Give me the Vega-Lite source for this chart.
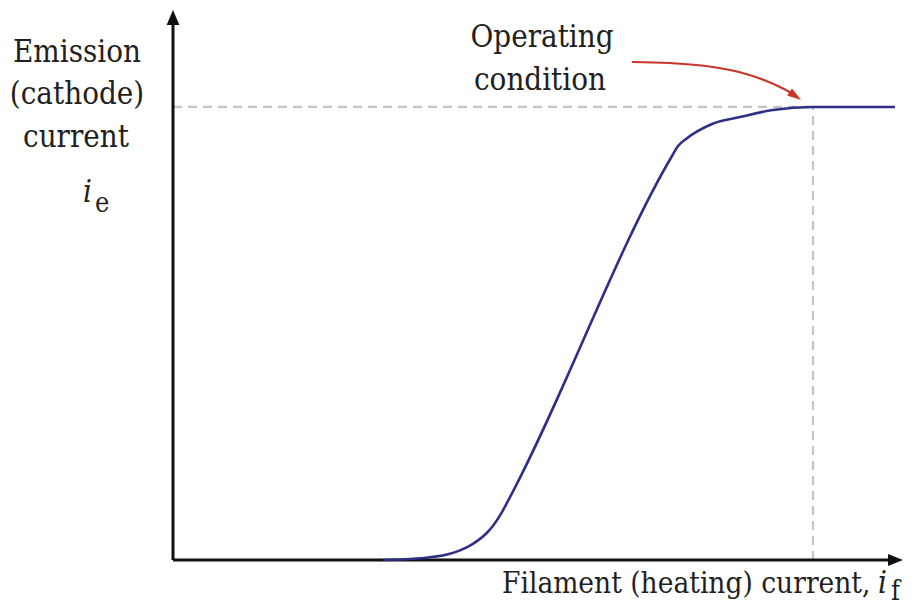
{
  "$schema": "https://vega.github.io/schema/vega-lite/v6.json",
  "width": 730,
  "height": 552,
  "autosize": {"type": "none"},
  "padding": {"left": 173, "top": 8, "right": 16, "bottom": 51},
  "background": "white",
  "config": {"view": {"stroke": null}},
  "layer": [
    {
      "data": {"values": [
        {"x": 0, "y": 82.07, "x2": 87.67, "y2": 82.07},
        {"x": 87.67, "y": 0, "x2": 87.67, "y2": 82.07}
      ]},
      "mark": {"type": "rule", "color": "#c4c4c4", "strokeWidth": 2.2, "strokeDash": [9, 6]},
      "encoding": {
        "x": {"field": "x", "type": "quantitative", "scale": {"domain": [0, 100], "nice": false, "zero": false}, "axis": null},
        "y": {"field": "y", "type": "quantitative", "scale": {"domain": [0, 100], "nice": false, "zero": false}, "axis": null},
        "x2": {"field": "x2"},
        "y2": {"field": "y2"}
      }
    },
    {
      "data": {"values": [
        {"x": 0, "y": 0, "x2": 98.2, "y2": 0},
        {"x": 0, "y": 0, "x2": 0, "y2": 97.8}
      ]},
      "mark": {"type": "rule", "color": "#111111", "strokeWidth": 3},
      "encoding": {
        "x": {"field": "x", "type": "quantitative"},
        "y": {"field": "y", "type": "quantitative"},
        "x2": {"field": "x2"},
        "y2": {"field": "y2"}
      }
    },
    {
      "data": {"values": [{"x": 0, "y": 98.28}]},
      "mark": {"type": "point", "shape": "M0,-1L0.85,1L-0.85,1Z", "size": 225, "filled": true, "color": "#111111", "opacity": 1},
      "encoding": {
        "x": {"field": "x", "type": "quantitative"},
        "y": {"field": "y", "type": "quantitative"}
      }
    },
    {
      "data": {"values": [{"x": 98.97, "y": 0}]},
      "mark": {"type": "point", "shape": "M1,0L-1,0.8L-1,-0.8Z", "size": 225, "filled": true, "color": "#111111", "opacity": 1},
      "encoding": {
        "x": {"field": "x", "type": "quantitative"},
        "y": {"field": "y", "type": "quantitative"}
      }
    },
    {
      "data": {"values": [
        {"x": 28.77, "y": 0},
        {"x": 32.47, "y": 0.18},
        {"x": 35.21, "y": 0.5},
        {"x": 37.67, "y": 1.05},
        {"x": 39.32, "y": 1.75},
        {"x": 40.68, "y": 2.6},
        {"x": 41.78, "y": 3.55},
        {"x": 42.88, "y": 4.75},
        {"x": 43.84, "y": 6.2},
        {"x": 44.9, "y": 8.3},
        {"x": 46.0, "y": 11.0},
        {"x": 68.36, "y": 73.19},
        {"x": 69.18, "y": 75.0},
        {"x": 70.27, "y": 76.27},
        {"x": 71.92, "y": 77.72},
        {"x": 73.84, "y": 78.99},
        {"x": 77.67, "y": 80.25},
        {"x": 82.19, "y": 81.52},
        {"x": 87.67, "y": 82.07},
        {"x": 98.9, "y": 82.07}
      ]},
      "mark": {"type": "line", "color": "#2f2f86", "strokeWidth": 2.6, "interpolate": "monotone"},
      "encoding": {
        "x": {"field": "x", "type": "quantitative"},
        "y": {"field": "y", "type": "quantitative"}
      }
    },
    {
      "data": {"values": [
        {"x": 62.88, "y": 90.22},
        {"x": 67.95, "y": 90.04},
        {"x": 73.01, "y": 89.49},
        {"x": 77.53, "y": 88.41},
        {"x": 80.96, "y": 86.96},
        {"x": 83.7, "y": 85.33},
        {"x": 84.9, "y": 84.45}
      ]},
      "mark": {"type": "line", "color": "#c8352b", "strokeWidth": 2.2, "interpolate": "monotone"},
      "encoding": {
        "x": {"field": "x", "type": "quantitative"},
        "y": {"field": "y", "type": "quantitative"}
      }
    },
    {
      "data": {"values": [{"x": 85.25, "y": 84.06}]},
      "mark": {"type": "point", "shape": "M1,0L-1,0.6L-1,-0.6Z", "size": 196, "filled": true, "color": "#c8352b", "opacity": 1, "angle": 35},
      "encoding": {
        "x": {"field": "x", "type": "quantitative"},
        "y": {"field": "y", "type": "quantitative"}
      }
    },
    {
      "data": {"values": [
        {"x": -13.15, "y": 90.22, "label": "Emission"},
        {"x": -13.15, "y": 82.61, "label": "(cathode)"},
        {"x": -13.29, "y": 74.82, "label": "current"},
        {"x": 50.55, "y": 92.93, "label": "Operating"},
        {"x": 50.27, "y": 85.14, "label": "condition"}
      ]},
      "mark": {"type": "text", "font": "DejaVu Serif Condensed, DejaVu Serif", "fontSize": 31, "color": "#231f20", "align": "center", "baseline": "alphabetic"},
      "encoding": {
        "x": {"field": "x", "type": "quantitative"},
        "y": {"field": "y", "type": "quantitative"},
        "text": {"field": "label"}
      }
    },
    {
      "data": {"values": [
        {"x": 45.07, "y": -5.98, "label": "Filament (heating) current,"}
      ]},
      "mark": {"type": "text", "font": "DejaVu Serif Condensed, DejaVu Serif", "fontSize": 29.5, "color": "#231f20", "align": "left", "baseline": "alphabetic"},
      "encoding": {
        "x": {"field": "x", "type": "quantitative"},
        "y": {"field": "y", "type": "quantitative"},
        "text": {"field": "label"}
      }
    },
    {
      "data": {"values": [
        {"x": -12.33, "y": 64.86, "label": "i"},
        {"x": 96.58, "y": -5.98, "label": "i"}
      ]},
      "mark": {"type": "text", "font": "DejaVu Serif Condensed, DejaVu Serif", "fontSize": 31, "fontStyle": "italic", "color": "#231f20", "align": "left", "baseline": "alphabetic"},
      "encoding": {
        "x": {"field": "x", "type": "quantitative"},
        "y": {"field": "y", "type": "quantitative"},
        "text": {"field": "label"}
      }
    },
    {
      "data": {"values": [
        {"x": -10.68, "y": 63.04, "label": "e"},
        {"x": 98.36, "y": -7.25, "label": "f"}
      ]},
      "mark": {"type": "text", "font": "DejaVu Serif Condensed, DejaVu Serif", "fontSize": 27, "color": "#231f20", "align": "left", "baseline": "alphabetic"},
      "encoding": {
        "x": {"field": "x", "type": "quantitative"},
        "y": {"field": "y", "type": "quantitative"},
        "text": {"field": "label"}
      }
    }
  ]
}
